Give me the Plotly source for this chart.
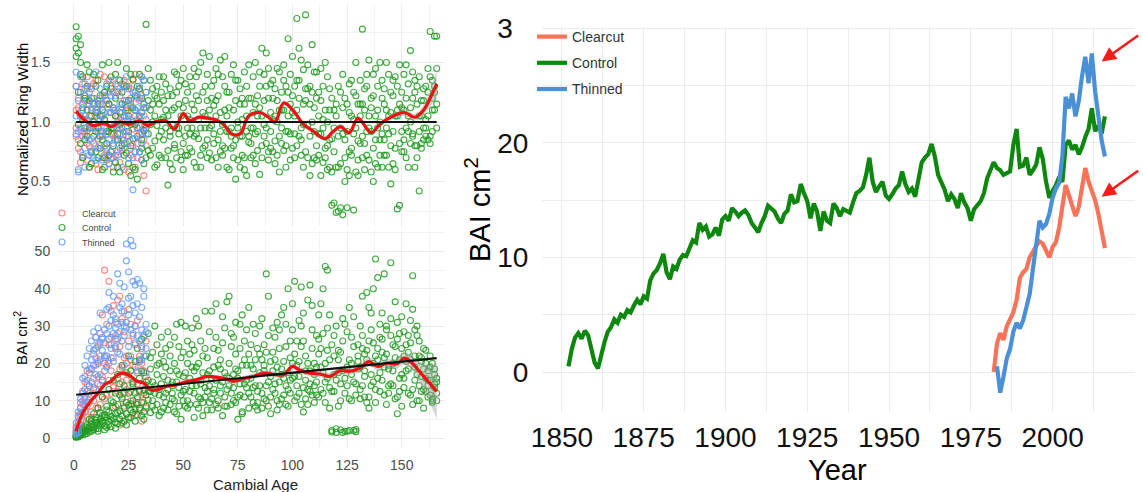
import plotly.graph_objects as go

W, H = 1143, 492

# ---------------- data: left panels (cambial age) ----------------
ages = list(range(1, 167))
young = list(range(1, 34))

# Normalized ring width, Control trees (ages 1-166)
ctrl_nrw_a = [1.80, 1.72, 1.65, 1.38, 1.22, 1.10, 0.95, 1.05, 0.88, 0.92,
              1.15, 0.78, 0.85, 1.02, 1.30, 0.72, 0.95, 1.12, 0.66, 0.90,
              1.08, 1.25, 0.82, 0.74, 1.18, 0.98, 1.36, 0.60, 0.88, 1.05,
              1.20, 0.93, 1.82, 0.76, 1.10, 1.28, 0.84, 0.97, 1.15, 0.70,
              1.04, 1.32, 0.47, 0.92, 1.22, 0.81, 1.40, 0.95, 0.68, 1.12,
              0.88, 1.25, 1.02, 0.75, 1.45, 0.90, 1.18, 0.62, 1.08, 1.30,
              0.85, 1.55, 0.97, 1.14, 0.70, 1.22, 0.92, 1.38, 0.78, 1.05,
              0.60, 0.88, 1.10, 0.52, 0.95, 1.28, 0.72, 1.42, 1.05, 0.83,
              1.20, 0.95, 1.50, 0.76, 1.12, 1.62, 0.88, 1.30, 0.68, 1.08,
              1.35, 0.84, 1.18, 0.58, 1.25, 1.48, 0.92, 1.70, 1.15, 0.78,
              1.05, 1.87, 1.20, 0.72, 1.44, 1.90, 0.98, 1.30, 0.65, 1.12,
              0.80, 1.25, 0.55, 1.02, 0.70, 1.38, 0.85, 0.30, 1.10, 0.62,
              0.25, 0.95, 0.22, 1.20, 0.28, 0.75, 1.35, 0.90, 0.58, 1.15,
              1.05, 1.78, 0.82, 1.30, 0.68, 1.12, 0.50, 1.45, 0.95, 0.72,
              1.20, 0.85, 1.50, 0.62, 1.08, 1.35, 0.78, 0.27, 1.15, 0.92,
              1.40, 0.70, 1.05, 1.60, 0.88, 1.25, 0.80, 0.42, 1.18, 0.95,
              1.30, 0.85, 1.76, 1.20, 1.72, 1.45]
ctrl_nrw_b = [1.70, 1.58, 1.40, 1.02, 0.85, 1.30, 1.18, 0.75, 1.40, 1.08,
              0.70, 1.22, 1.48, 0.62, 0.92, 1.15, 1.38, 0.80, 1.05, 1.50,
              0.58, 0.95, 1.30, 1.12, 0.65, 1.40, 0.86, 1.10, 0.52, 1.28,
              0.78, 1.35, 0.95, 1.18, 0.72, 1.00, 1.22, 0.64, 1.38, 0.92,
              0.85, 1.10, 0.76, 1.28, 0.98, 1.42, 0.70, 1.15, 1.35, 0.82,
              1.18, 0.72, 1.38, 0.95, 0.66, 1.22, 0.86, 1.50, 0.78, 1.05,
              1.40, 0.74, 1.20, 0.90, 1.45, 0.62, 1.08, 0.80, 1.30, 0.92,
              1.25, 0.78, 1.48, 0.85, 0.68, 1.15, 1.02, 0.60, 1.30, 0.88,
              0.70, 1.38, 0.90, 1.22, 0.56, 1.05, 1.40, 0.82, 1.20, 0.92,
              0.75, 1.28, 1.00, 1.42, 0.82, 1.10, 0.62, 1.25, 0.90, 1.55,
              1.30, 0.80, 1.62, 0.95, 1.15, 0.75, 1.48, 0.88, 1.25, 0.70,
              1.42, 0.90, 1.18, 0.66, 1.50, 0.80, 1.10, 0.58, 0.95, 0.24,
              0.88, 0.28, 1.12, 0.70, 0.92, 0.55, 1.05, 0.26, 1.22, 0.68,
              0.82, 1.15, 0.60, 1.40, 0.95, 1.20, 0.78, 1.05, 0.62, 1.50,
              0.90, 1.28, 0.72, 1.05, 0.48, 0.92, 1.38, 1.10, 0.30, 1.25,
              0.85, 1.48, 0.62, 1.12, 0.90, 1.35, 0.70, 1.05, 0.82, 1.28,
              1.02, 1.45, 0.88, 1.35, 1.10, 1.72]
ctrl_nrw_c = [1.62, 0.98, 1.50, 0.70, 1.20, 0.88, 1.42, 0.65, 1.15, 1.30,
              0.95, 1.05, 0.60, 1.25, 0.82, 1.50, 0.75, 0.95, 1.20, 0.62,
              1.35, 0.80, 1.05, 1.45, 0.92, 0.55, 1.12, 0.98, 1.30, 0.75,
              1.08, 0.65, 1.25, 0.90, 1.35, 0.78, 1.05, 1.20, 0.72, 1.25,
              1.18, 0.70, 1.05, 0.88, 0.60, 1.12, 0.95, 1.30, 0.75, 1.45,
              0.72, 1.05, 0.90, 1.30, 1.10, 0.62, 1.42, 0.95, 1.58, 0.80,
              1.18, 0.95, 0.68, 1.35, 1.05, 0.85, 1.52, 0.72, 1.10, 1.25,
              0.92, 1.40, 0.70, 1.18, 1.35, 0.62, 0.88, 1.15, 0.55, 1.20,
              0.95, 0.72, 1.15, 1.05, 1.42, 0.80, 0.98, 1.58, 0.75, 1.32,
              1.02, 0.65, 1.45, 0.88, 1.10, 0.76, 1.30, 0.92, 1.40, 1.08,
              0.70, 1.35, 0.88, 1.52, 0.62, 1.18, 1.28, 0.55, 1.65, 0.92,
              1.20, 0.72, 1.45, 0.95, 1.10, 0.60, 1.28, 0.86, 0.32, 1.15,
              0.62, 1.25, 0.90, 0.50, 1.15, 1.32, 0.78, 1.02, 1.50, 0.84,
              1.35, 0.70, 1.10, 0.92, 1.52, 0.58, 1.22, 0.85, 1.30, 1.00,
              0.62, 1.15, 0.95, 1.40, 0.80, 1.22, 0.60, 1.05, 1.48, 0.75,
              1.10, 0.95, 1.32, 0.82, 1.20, 0.62, 1.15, 1.38, 0.78, 0.85,
              0.95, 1.25, 0.82, 1.10, 1.30, 0.95]
ctrl_nrw_d = [1.55, 1.25, 0.82, 1.12, 0.95, 1.48, 0.62, 1.20, 1.00, 0.75,
              1.35, 0.88, 1.10, 0.70, 1.18, 0.92, 1.28, 0.58, 1.40, 0.85,
              0.98, 1.15, 0.72, 1.30, 1.05, 0.80, 0.62, 1.22, 0.95, 1.40,
              0.85, 1.12, 0.70, 1.45, 0.98, 1.15, 0.62, 1.30, 0.88, 1.02,
              1.38, 0.95, 1.22, 0.65, 1.10, 0.78, 1.25, 0.90, 1.05, 0.60,
              1.32, 0.95, 0.78, 1.15, 0.88, 1.38, 1.02, 0.72, 1.25, 0.95,
              0.70, 1.10, 1.30, 0.82, 1.18, 1.40, 0.75, 0.98, 1.55, 0.62,
              1.12, 0.95, 0.80, 1.35, 1.00, 0.88, 1.20, 0.70, 0.92, 1.48,
              0.82, 1.08, 0.65, 0.92, 1.30, 0.70, 1.18, 0.95, 1.45, 0.78,
              1.20, 1.05, 0.72, 1.10, 0.95, 1.35, 0.80, 1.05, 0.68, 1.22,
              0.90, 1.10, 1.35, 0.85, 0.98, 1.28, 0.70, 1.15, 1.00, 1.42,
              0.68, 1.05, 0.90, 1.30, 0.78, 1.00, 0.62, 1.20, 0.75, 1.05,
              1.30, 0.65, 1.40, 0.85, 0.60, 1.08, 0.72, 1.25, 0.95, 0.55,
              1.15, 0.88, 1.28, 0.72, 1.05, 0.92, 1.40, 0.65, 1.10, 0.85,
              1.35, 0.72, 1.10, 0.90, 1.25, 0.65, 1.05, 1.30, 0.82, 1.12,
              0.75, 1.20, 0.92, 1.00, 1.42, 0.80, 1.30, 0.92, 1.05, 1.18,
              0.88, 1.05, 1.38, 0.92, 1.25, 1.15]

# Normalized ring width, Clearcut / Thinned trees (ages 1-33)
cc_nrw_a = [1.10, 0.85, 1.25, 0.70, 1.02, 1.38, 0.80, 0.95, 1.20, 0.65, 1.08, 1.40, 0.88, 0.72, 1.15, 0.98, 1.30,
            0.62, 1.05, 0.85, 1.22, 0.76, 1.35, 0.92, 0.58, 1.12, 1.00, 1.40, 0.82, 1.18, 0.68, 1.05, 0.42]
cc_nrw_b = [0.95, 1.20, 0.75, 1.32, 0.90, 0.68, 1.15, 1.28, 0.82, 1.05, 0.60, 0.92, 1.22, 1.02, 0.78, 1.35, 0.70,
            1.10, 0.88, 1.25, 0.66, 1.00, 0.85, 1.18, 1.30, 0.72, 0.94, 0.62, 1.20, 0.90, 1.38, 0.55, 0.98]
cc_nrw_c = [1.30, 0.78, 1.05, 0.92, 1.18, 0.82, 0.62, 1.10, 1.00, 1.35, 0.86, 1.15, 0.70, 1.25, 0.95, 0.65, 1.08,
            0.90, 1.32, 0.75, 1.02, 1.15, 0.60, 0.88, 1.10, 1.28, 0.80, 1.05, 0.70, 0.96, 1.22, 0.85, 1.12]
cc_nrw_d = [0.88, 1.12, 0.66, 1.02, 1.28, 0.92, 1.05, 0.74, 1.32, 0.95, 1.18, 0.80, 1.05, 1.38, 0.68, 1.15, 0.90,
            1.25, 0.72, 1.05, 0.95, 1.32, 0.78, 1.10, 0.88, 1.20, 1.35, 0.75, 1.02, 1.28, 0.90, 1.15, 0.80]
th_nrw_a = [1.42, 0.60, 1.25, 0.88, 1.05, 1.18, 0.72, 1.30, 0.95, 0.80, 1.12, 1.02, 0.68, 1.22, 0.90, 1.08, 0.75,
            1.35, 0.85, 1.00, 1.15, 0.62, 1.05, 0.92, 1.28, 0.78, 0.43, 1.10, 0.95, 1.20, 0.82, 1.35, 1.02]
th_nrw_b = [1.30, 0.58, 0.95, 1.15, 0.78, 1.02, 1.25, 0.86, 0.70, 1.10, 0.92, 1.28, 1.05, 0.80, 1.18, 0.65, 0.98,
            1.12, 1.22, 0.72, 0.90, 1.08, 1.30, 0.82, 1.00, 1.15, 0.70, 1.25, 0.88, 1.05, 1.38, 0.92, 1.12]
th_nrw_c = [0.90, 1.18, 1.05, 0.72, 1.32, 0.95, 0.85, 1.12, 1.20, 0.68, 1.02, 0.88, 1.15, 0.95, 0.75, 1.25, 1.08,
            0.82, 0.98, 1.30, 0.78, 1.12, 0.92, 1.05, 0.70, 1.18, 1.00, 0.86, 1.22, 0.75, 1.08, 0.95, 1.25]
th_nrw_d = [1.05, 0.92, 1.38, 1.10, 0.62, 1.28, 0.98, 0.75, 1.15, 1.42, 0.78, 1.20, 0.92, 1.08, 1.32, 0.85, 1.22,
            0.70, 1.10, 0.95, 1.28, 0.85, 1.18, 1.38, 0.88, 1.02, 1.25, 0.75, 1.12, 1.30, 0.68, 1.15, 0.90]

# BAI (cm2), Control trees (ages 1-166)
ctrl_bai_a = [0.3, 0.8, 1.2, 1.5, 2.2, 2.0, 3.1, 2.8, 3.5, 4.2,
              3.8, 5.0, 4.5, 6.2, 5.5, 7.0, 4.8, 8.2, 6.5, 9.0,
              7.2, 10.5, 8.0, 6.5, 12.0, 9.2, 14.5, 7.8, 11.0, 16.0,
              9.5, 13.0, 22.0, 10.2, 18.5, 8.5, 14.0, 25.0, 11.5, 7.0,
              16.5, 12.0, 28.5, 9.0, 15.0, 20.0, 6.5, 13.5, 31.0, 10.0,
              17.5, 8.0, 22.5, 14.0, 5.5, 19.0, 11.0, 26.0, 9.5, 34.0,
              12.5, 18.0, 7.5, 24.0, 15.5, 10.0, 21.0, 6.0, 29.5, 13.0,
              38.0, 9.0, 17.0, 22.5, 5.0, 14.5, 33.0, 11.0, 19.5, 8.0,
              25.0, 13.5, 28.0, 7.5, 17.5, 21.0, 10.5, 44.0, 15.0, 6.5,
              23.0, 12.0, 31.0, 9.0, 18.5, 35.0, 14.0, 8.5, 26.0, 16.0,
              42.0, 11.0, 20.5, 30.0, 7.0, 15.5, 37.0, 12.5, 24.0, 9.5,
              19.0, 33.0, 13.0, 28.0, 46.0, 16.0, 8.0, 2.0, 22.0, 1.5,
              17.5, 2.2, 26.0, 12.0, 1.8, 35.0, 20.0, 2.0, 14.5, 25.0,
              10.5, 38.0, 18.0, 23.5, 8.0, 29.0, 15.0, 48.0, 21.0, 12.5,
              26.5, 44.0, 9.0, 19.5, 32.0, 14.0, 24.5, 6.5, 28.0, 17.0,
              22.0, 36.0, 12.0, 25.5, 43.5, 15.5, 30.0, 10.0, 20.5, 13.0,
              16.0, 11.0, 19.0, 9.5, 17.0, 12.0]
ctrl_bai_b = [0.5, 1.0, 0.7, 2.5, 1.8, 3.5, 2.4, 4.6, 3.0, 5.5,
              2.5, 6.8, 4.0, 3.2, 8.5, 4.5, 10.0, 5.2, 12.0, 3.8,
              14.5, 6.0, 4.5, 17.5, 8.8, 5.5, 10.0, 20.5, 6.2, 12.5,
              18.0, 5.0, 11.5, 15.5, 6.8, 23.0, 12.0, 9.0, 20.0, 14.5,
              8.0, 24.0, 13.0, 18.0, 10.5, 27.0, 15.0, 8.5, 21.5, 12.5,
              30.0, 10.0, 16.0, 25.0, 12.0, 9.0, 20.0, 14.5, 6.0, 24.0,
              17.0, 28.5, 10.5, 13.0, 36.0, 8.0, 18.5, 25.5, 11.0, 16.5,
              20.0, 12.0, 27.0, 9.5, 16.0, 30.5, 7.0, 21.0, 13.5, 35.0,
              11.0, 18.5, 8.5, 24.0, 14.0, 32.0, 19.5, 10.0, 27.5, 16.5,
              13.0, 21.0, 7.5, 29.0, 17.0, 11.5, 24.5, 40.0, 15.5, 20.0,
              10.0, 26.0, 16.5, 40.5, 13.5, 22.0, 9.0, 18.0, 29.0, 14.0,
              27.5, 11.0, 24.0, 17.5, 9.5, 45.0, 21.0, 1.6, 12.5, 30.0,
              8.5, 23.0, 1.5, 16.0, 28.5, 2.0, 10.0, 24.5, 1.7, 18.5,
              30.0, 14.0, 22.5, 9.5, 26.0, 17.0, 40.0, 13.0, 24.0, 30.5,
              15.5, 21.5, 29.0, 12.0, 47.0, 20.0, 10.5, 26.5, 16.0, 32.5,
              13.5, 25.0, 18.5, 31.5, 9.0, 22.0, 27.5, 14.0, 16.5, 24.0,
              12.5, 18.0, 15.5, 10.0, 13.5, 16.0]
ctrl_bai_c = [0.2, 0.4, 1.6, 0.9, 3.0, 1.2, 5.0, 1.8, 6.5, 2.5,
              8.0, 3.5, 11.0, 5.5, 2.8, 13.0, 3.0, 15.5, 4.2, 17.0,
              5.0, 19.5, 12.0, 3.5, 22.0, 7.5, 15.0, 4.5, 24.0, 8.0,
              26.5, 7.0, 15.0, 28.0, 12.5, 10.0, 30.0, 17.0, 6.0, 22.5,
              11.0, 19.0, 7.5, 25.0, 14.0, 10.0, 30.5, 17.0, 5.0, 23.0,
              13.0, 20.0, 9.0, 29.5, 18.0, 32.0, 8.0, 15.5, 22.0, 11.0,
              7.5, 14.0, 34.0, 19.0, 9.0, 23.5, 12.0, 15.0, 8.5, 36.5,
              14.0, 24.5, 10.0, 31.0, 18.0, 11.5, 6.5, 26.0, 15.5, 22.5,
              16.0, 9.5, 21.0, 12.5, 30.0, 8.0, 25.0, 14.0, 38.0, 11.0,
              18.0, 27.0, 10.0, 15.0, 33.0, 20.5, 9.0, 17.5, 12.0, 29.0,
              22.5, 14.0, 31.5, 9.0, 26.0, 18.0, 13.0, 41.0, 11.5, 20.0,
              15.0, 22.5, 36.0, 12.0, 20.0, 29.5, 13.5, 25.0, 17.0, 2.5,
              21.0, 14.5, 32.0, 1.8, 19.0, 10.5, 27.0, 15.0, 2.3, 22.0,
              13.0, 24.0, 16.5, 39.0, 11.0, 33.5, 20.0, 9.5, 43.0, 17.5,
              23.0, 11.5, 30.0, 18.5, 14.5, 25.0, 36.5, 11.0, 21.0, 8.5,
              28.5, 18.0, 23.0, 11.5, 34.5, 19.0, 10.0, 26.0, 21.5, 8.0,
              20.0, 14.0, 22.0, 10.5, 18.5, 15.0]
ctrl_bai_d = [0.6, 0.3, 2.0, 1.4, 1.0, 2.8, 1.6, 3.8, 2.2, 4.8,
              1.8, 4.2, 6.0, 2.2, 7.5, 3.6, 5.8, 9.5, 2.6, 6.8,
              11.5, 4.0, 14.0, 9.5, 5.5, 18.0, 6.8, 12.0, 9.0, 21.0,
              6.0, 17.5, 8.5, 12.5, 21.5, 15.0, 7.5, 19.5, 13.0, 27.0,
              20.5, 9.5, 15.5, 22.0, 12.0, 7.0, 18.0, 24.5, 11.5, 16.5,
              8.5, 26.0, 12.5, 19.0, 23.5, 14.0, 30.0, 10.5, 17.5, 13.5,
              21.5, 9.5, 16.0, 12.0, 27.0, 19.5, 14.0, 32.5, 17.5, 8.5,
              16.0, 28.0, 13.5, 18.5, 11.0, 24.0, 19.5, 14.5, 29.0, 12.0,
              19.5, 30.5, 14.0, 9.5, 22.5, 12.0, 18.0, 23.0, 8.5, 20.5,
              29.5, 14.5, 19.0, 24.0, 10.5, 16.0, 30.5, 13.0, 21.5, 36.0,
              16.5, 19.5, 12.0, 24.5, 33.5, 10.5, 20.0, 14.5, 35.5, 17.0,
              11.5, 26.5, 19.0, 40.0, 15.0, 23.5, 33.0, 12.5, 27.5, 15.5,
              23.5, 10.0, 18.0, 30.5, 14.0, 21.0, 17.0, 32.5, 11.5, 20.5,
              19.0, 27.5, 11.0, 21.0, 35.0, 14.0, 25.5, 22.0, 16.0, 27.0,
              33.5, 19.0, 22.5, 14.0, 27.5, 18.0, 21.5, 31.0, 12.5, 24.0,
              16.0, 20.5, 27.5, 21.0, 13.0, 29.0, 17.0, 22.0, 12.5, 18.5,
              23.5, 15.5, 11.5, 20.0, 14.5, 10.0]

# BAI (cm2), Clearcut / Thinned trees (ages 1-33)
cc_bai_a = [2.5, 4.0, 6.5, 9.0, 15.0, 8.5, 12.0, 18.5, 10.0, 27.0, 14.5, 22.0, 33.0, 45.0, 19.5, 42.0, 12.0,
            35.5, 24.0, 16.0, 38.0, 11.0, 28.5, 20.0, 5.0, 30.5, 14.0, 25.0, 9.5, 22.0, 4.5, 18.0, 26.0]
cc_bai_b = [1.5, 6.0, 3.5, 12.5, 7.0, 18.0, 9.5, 5.5, 22.5, 13.0, 8.0, 28.0, 16.5, 10.5, 30.5, 20.0, 34.0,
            14.0, 26.5, 37.0, 18.5, 32.0, 8.5, 22.0, 17.0, 12.5, 27.5, 19.0, 31.5, 7.5, 24.0, 12.0, 16.5]
cc_bai_c = [3.0, 2.0, 9.5, 5.0, 11.0, 14.5, 17.5, 7.0, 13.5, 19.5, 24.5, 9.0, 15.5, 20.0, 11.5, 25.0, 18.0,
            13.5, 8.5, 28.0, 3.5, 15.0, 21.5, 13.0, 34.5, 10.0, 19.5, 6.0, 14.5, 20.5, 11.5, 27.0, 8.0]
cc_bai_d = [1.0, 3.5, 8.0, 6.5, 10.5, 5.5, 14.0, 11.5, 16.0, 8.0, 20.5, 17.0, 11.0, 25.5, 22.0, 15.5, 27.0,
            21.5, 31.0, 12.5, 24.5, 19.0, 34.0, 15.5, 26.0, 21.0, 9.0, 30.0, 17.5, 13.0, 20.0, 9.5, 14.0]
th_bai_a = [2.0, 5.5, 8.0, 12.0, 16.5, 22.0, 14.0, 26.0, 19.5, 24.0, 29.5, 21.0, 27.0, 18.0, 34.5, 30.0, 25.0,
            38.0, 32.0, 44.0, 28.5, 36.0, 40.5, 52.0, 33.0, 53.0, 42.0, 30.0, 42.5, 26.0, 35.0, 22.0, 30.5]
th_bai_b = [1.0, 3.0, 10.5, 7.0, 13.0, 9.5, 18.5, 15.0, 23.5, 17.0, 20.0, 25.5, 15.5, 29.0, 22.0, 26.5, 31.5,
            20.5, 27.5, 23.0, 35.0, 26.0, 30.0, 47.5, 24.5, 38.0, 28.0, 33.5, 18.0, 41.5, 21.0, 27.5, 24.0]
th_bai_c = [4.0, 1.5, 6.0, 16.0, 9.0, 12.5, 11.0, 21.0, 13.0, 27.0, 16.5, 14.0, 23.5, 21.5, 19.0, 35.0, 21.5,
            28.0, 24.5, 30.5, 22.5, 31.0, 19.5, 29.5, 37.5, 22.0, 51.5, 25.5, 36.0, 20.5, 29.0, 38.0, 17.5]
th_bai_d = [1.5, 7.0, 4.5, 10.0, 19.5, 15.5, 24.0, 18.5, 28.5, 21.5, 25.0, 33.5, 26.5, 22.0, 28.0, 39.0, 24.0,
            33.0, 29.5, 26.5, 41.5, 34.0, 27.5, 31.0, 44.5, 29.0, 35.5, 41.0, 27.5, 32.5, 24.5, 40.0, 28.5]

# smoothed (loess) curves, their standard-error half widths, and linear fits
loess_age_top = [1, 4, 9, 14, 17, 21, 25, 30, 34, 37, 42, 46, 50, 53, 57, 62, 66, 69, 72, 76,
                 80, 85, 89, 92, 96, 101, 105, 109, 115, 118, 122, 126, 130, 136, 140, 144, 151, 156, 160, 163, 166]
loess_nrw = [1.09, 1.03, 0.97, 0.99, 0.96, 1.00, 0.98, 1.01, 0.97, 1.00, 1.01, 0.94, 1.07, 1.01, 1.04, 1.03,
             1.01, 0.97, 0.90, 0.90, 1.05, 1.08, 1.04, 1.00, 1.16, 1.08, 0.98, 0.93, 0.86, 0.91, 0.96, 0.91,
             1.03, 0.91, 0.98, 1.03, 1.08, 1.04, 1.10, 1.20, 1.32]
loess_nrw_se = [0.04, 0.03, 0.02, 0.02, 0.02, 0.02, 0.02, 0.02, 0.02, 0.02, 0.02, 0.02, 0.02, 0.02, 0.02,
                0.02, 0.02, 0.02, 0.02, 0.02, 0.02, 0.02, 0.02, 0.02, 0.02, 0.02, 0.02, 0.02, 0.02, 0.02,
                0.02, 0.02, 0.02, 0.02, 0.02, 0.02, 0.03, 0.03, 0.04, 0.07, 0.12]
loess_age_bot = [1, 4, 7, 11, 14, 17, 20, 23, 26, 29, 32, 35, 38, 42, 47, 52, 56, 61, 65, 70, 73, 78, 82, 87,
                 91, 96, 100, 103, 108, 113, 117, 122, 126, 131, 135, 139, 143, 148, 151, 154, 158, 162, 166]
loess_bai = [1.8, 6.7, 9.4, 12.0, 14.3, 15.2, 17.0, 17.4, 16.5, 15.2, 14.7, 12.9, 12.9, 13.8, 14.3, 15.2,
             15.6, 16.5, 16.3, 15.8, 15.2, 16.0, 16.5, 17.4, 17.1, 17.0, 19.2, 18.3, 17.4, 17.1, 16.5, 18.1,
             17.9, 18.8, 20.5, 19.2, 20.1, 19.9, 21.4, 20.5, 17.9, 15.2, 12.5]
loess_bai_se = [1.0, 0.8, 0.7, 0.6, 0.6, 0.6, 0.6, 0.6, 0.6, 0.6, 0.6, 0.6, 0.6, 0.6, 0.6, 0.6, 0.6, 0.6,
                0.6, 0.7, 0.7, 0.7, 0.7, 0.7, 0.8, 0.8, 0.8, 0.8, 0.9, 0.9, 0.9, 1.0, 1.0, 1.0, 1.1, 1.1,
                1.2, 1.3, 1.5, 1.8, 2.6, 4.5, 7.5]
lm_age = [1, 166]
lm_nrw = [1.0, 1.0]
lm_bai = [11.6, 21.4]

# ---------------- data: right panel (calendar years) ----------------
years_control = list(range(1852, 2017))
bai_control = [0.5, 2.0, 3.0, 3.4, 2.9, 3.6, 3.2, 2.0, 0.8, 0.3,
               1.5, 2.6, 3.5, 3.9, 4.6, 4.3, 5.0, 4.8, 5.4, 5.2,
               5.8, 6.3, 5.9, 6.6, 6.4, 8.0, 8.6, 8.9, 9.5, 10.3,
               8.7, 8.1, 9.2, 9.0, 9.8, 10.2, 10.1, 10.8, 11.5, 11.3,
               13.0, 12.4, 12.7, 11.8, 12.0, 12.6, 11.9, 13.3, 13.6, 13.2,
               14.3, 14.0, 13.6, 13.9, 14.1, 13.7, 13.0, 12.6, 12.2, 13.0,
               13.6, 14.5, 14.2, 14.0, 13.4, 13.0, 13.8, 14.1, 15.5, 14.8,
               14.9, 16.4, 15.6, 14.9, 13.4, 14.7, 14.0, 12.3, 14.0, 13.2,
               13.0, 14.7, 14.3, 13.6, 14.2, 14.0, 13.9, 14.8, 15.6, 15.8,
               16.1, 17.2, 18.7, 16.6, 15.7, 16.2, 16.6, 15.4, 15.1, 15.5,
               16.0, 16.3, 17.5, 16.4, 15.7, 16.0, 15.3, 16.8, 18.3, 18.7,
               19.0, 19.9, 18.8, 17.2, 16.5, 15.9, 14.9, 15.5, 15.1, 14.3,
               15.6, 14.8, 14.3, 13.2, 14.2, 14.6, 14.9, 15.6, 16.9, 17.6,
               18.3, 17.8, 17.6, 17.2, 17.4, 17.5, 19.8, 21.2, 17.9, 18.0,
               18.7, 17.2, 17.6, 18.1, 19.6, 18.6, 16.6, 15.2, 15.8, 16.3,
               17.0, 16.6, 19.8, 20.2, 19.4, 19.8, 19.0, 19.6, 20.5, 21.2,
               23.0, 21.0, 21.5, 20.8, 22.3]
years_clearcut = list(range(1982, 2017))
bai_clearcut = [0.0, 2.5, 3.4, 2.8, 4.0, 4.6, 5.2, 6.3, 8.2, 8.7,
                9.0, 10.0, 10.6, 11.0, 11.4, 11.2, 10.6, 10.0, 10.9, 11.3,
                12.6, 14.4, 16.3, 15.4, 14.6, 13.6, 14.4, 16.0, 17.8, 16.6,
                15.8, 15.0, 13.8, 12.3, 10.8]
years_thinned = list(range(1983, 2017))
bai_thinned = [0.5, -1.8, -0.4, 1.2, 2.0, 3.5, 4.3, 3.8, 4.5, 5.6,
               6.8, 9.0, 11.5, 13.2, 12.6, 12.9, 13.8, 15.2, 16.0, 16.5,
               18.8, 24.0, 23.0, 24.3, 22.3, 23.6, 25.8, 27.5, 25.2, 27.8,
               24.5, 22.3, 20.2, 18.8]
arrow_years = [2015.0, 2015.0]
arrow_values = [27.1, 15.3]

for a, b in [(ctrl_nrw_a, ages), (ctrl_nrw_b, ages), (ctrl_nrw_c, ages), (ctrl_nrw_d, ages),
             (ctrl_bai_a, ages), (ctrl_bai_b, ages), (ctrl_bai_c, ages), (ctrl_bai_d, ages),
             (loess_nrw, loess_age_top), (loess_nrw_se, loess_age_top),
             (loess_bai, loess_age_bot), (loess_bai_se, loess_age_bot), (bai_control, years_control),
             (bai_clearcut, years_clearcut), (bai_thinned, years_thinned)]:
    assert len(a) == len(b), (len(a), len(b))
for s in [cc_nrw_a, cc_nrw_b, cc_nrw_c, cc_nrw_d, th_nrw_a, th_nrw_b, th_nrw_c, th_nrw_d,
          cc_bai_a, cc_bai_b, cc_bai_c, cc_bai_d, th_bai_a, th_bai_b, th_bai_c, th_bai_d]:
    assert len(s) == len(young)

# ---------------- styles ----------------
C_CC, C_CTRL, C_TH = "#F8766D", "#1E9A1E", "#619CFF"
R_CC, R_CTRL, R_TH = "#FA7358", "#0E870E", "#4A90D8"
GRID = "#EBEBEB"
FONT = "Liberation Sans, Arial, sans-serif"

fig = go.Figure()


def scatter_group(series, xvals, color, name, xa, ya, legend_id):
    xs, ys = [], []
    for s in series:
        xs += xvals
        ys += s
    fig.add_trace(go.Scatter(
        x=xs, y=ys, mode="markers", name=name, xaxis=xa, yaxis=ya,
        marker=dict(symbol="circle-open", size=6, color=color, opacity=0.85, line=dict(width=1.1)),
        showlegend=legend_id is not None, legend=legend_id or "legend2", hoverinfo="skip"))


def band_and_curve(xv, yv, se, xa, ya):
    lower = [v - e for v, e in zip(yv, se)]
    upper = [v + e for v, e in zip(yv, se)]
    fig.add_trace(go.Scatter(x=xv, y=lower, mode="lines", line=dict(width=0, shape="spline"),
                             xaxis=xa, yaxis=ya, showlegend=False, hoverinfo="skip"))
    fig.add_trace(go.Scatter(x=xv, y=upper, mode="lines", line=dict(width=0, shape="spline"),
                             fill="tonexty", fillcolor="rgba(160,160,160,0.45)",
                             xaxis=xa, yaxis=ya, showlegend=False, hoverinfo="skip"))
    fig.add_trace(go.Scatter(x=xv, y=yv, mode="lines", line=dict(color="#EE1111", width=3.2, shape="spline"),
                             xaxis=xa, yaxis=ya, showlegend=False, hoverinfo="skip"))


# top-left panel
scatter_group([cc_nrw_a, cc_nrw_b, cc_nrw_c, cc_nrw_d], young, C_CC, "Clearcut", "x", "y", "legend2")
scatter_group([ctrl_nrw_a, ctrl_nrw_b, ctrl_nrw_c, ctrl_nrw_d], ages, C_CTRL, "Control", "x", "y", "legend3")
scatter_group([th_nrw_a, th_nrw_b, th_nrw_c, th_nrw_d], young, C_TH, "Thinned", "x", "y", "legend4")
band_and_curve(loess_age_top, loess_nrw, loess_nrw_se, "x", "y")
fig.add_trace(go.Scatter(x=lm_age, y=lm_nrw, mode="lines", line=dict(color="#111111", width=2.2),
                         xaxis="x", yaxis="y", showlegend=False))

# bottom-left panel
scatter_group([cc_bai_a, cc_bai_b, cc_bai_c, cc_bai_d], young, C_CC, "Clearcut", "x2", "y2", None)
scatter_group([ctrl_bai_a, ctrl_bai_b, ctrl_bai_c, ctrl_bai_d], ages, C_CTRL, "Control", "x2", "y2", None)
scatter_group([th_bai_a, th_bai_b, th_bai_c, th_bai_d], young, C_TH, "Thinned", "x2", "y2", None)
band_and_curve(loess_age_bot, loess_bai, loess_bai_se, "x2", "y2")
fig.add_trace(go.Scatter(x=lm_age, y=lm_bai, mode="lines", line=dict(color="#111111", width=2.2),
                         xaxis="x2", yaxis="y2", showlegend=False))

# right panel
for xv, yv, col, nm in [(years_clearcut, bai_clearcut, R_CC, "Clearcut"),
                        (years_control, bai_control, R_CTRL, "Control"),
                        (years_thinned, bai_thinned, R_TH, "Thinned")]:
    fig.add_trace(go.Scatter(x=xv, y=yv, mode="lines", name=nm, line=dict(color=col, width=4.2),
                             xaxis="x3", yaxis="y3", legend="legend", legendgroup=nm))

# ---------------- layout ----------------
left_dom = [58 / W, 445 / W]
small_tick = dict(size=14, color="#4D4D4D", family=FONT)

def ax(**kw):
    d = dict(showline=False, zeroline=False, showgrid=True, gridcolor=GRID, gridwidth=1.1,
             ticks="outside", tickcolor="rgba(0,0,0,0)", automargin=False)
    d.update(kw)
    return d

small_legend = dict(xanchor="left", yanchor="middle", bgcolor="rgba(0,0,0,0)",
                    font=dict(size=9, color="#444444", family=FONT))

fig.update_layout(
    width=W, height=H, margin=dict(l=0, r=0, t=0, b=0, autoexpand=False),
    paper_bgcolor="white", plot_bgcolor="white",
    font=dict(family=FONT, color="#000000"),
    xaxis=ax(domain=left_dom, range=[-7.3, 169.8], anchor="y", tickvals=[0, 25, 50, 75, 100, 125, 150],
             showticklabels=False, ticklen=0,
             minor=dict(tickvals=[12.5, 37.5, 62.5, 87.5, 112.5, 137.5, 162.5], showgrid=True,
                        gridcolor="#F3F3F3", gridwidth=0.8)),
    yaxis=ax(domain=[1 - 227 / H, 1 - 5 / H], range=[0.118, 1.983], anchor="x",
             tickvals=[0.5, 1.0, 1.5], ticktext=["0.5", "1.0", "1.5"], tickfont=small_tick, ticklen=4,
             minor=dict(tickvals=[0.25, 0.75, 1.25, 1.75], showgrid=True, gridcolor="#F3F3F3", gridwidth=0.8)),
    xaxis2=ax(domain=left_dom, range=[-7.3, 169.8], anchor="y2", tickvals=[0, 25, 50, 75, 100, 125, 150],
              tickfont=small_tick, ticklen=4,
              minor=dict(tickvals=[12.5, 37.5, 62.5, 87.5, 112.5, 137.5, 162.5], showgrid=True,
                         gridcolor="#F3F3F3", gridwidth=0.8)),
    yaxis2=ax(domain=[1 - 448 / H, 1 - 231 / H], range=[-2.68, 55.5], anchor="x2",
              tickvals=[0, 10, 20, 30, 40, 50], tickfont=small_tick, ticklen=4,
              minor=dict(tickvals=[5, 15, 25, 35, 45, 55], showgrid=True, gridcolor="#F3F3F3", gridwidth=0.8)),
    xaxis3=ax(domain=[542 / W, 1135 / W], range=[1843.9, 2025.2], anchor="y3",
              tickvals=[1850, 1875, 1900, 1925, 1950, 1975, 2000], tickfont=dict(size=28, color="#111111"),
              ticklen=0, gridwidth=1.4,
              minor=dict(tickvals=[1862.5, 1887.5, 1912.5, 1937.5, 1962.5, 1987.5, 2012.5, 2025],
                         showgrid=True, gridcolor=GRID, gridwidth=1.2)),
    yaxis3=ax(domain=[1 - 412 / H, 1 - 27 / H], range=[-3.49, 30.1], anchor="x3",
              tickvals=[0, 10, 20, 30], ticktext=["0", "10", "20", "3\u00a0\u00a0"],
              tickfont=dict(size=28, color="#111111"), ticklen=0, ticklabelstandoff=7, gridwidth=1.4,
              minor=dict(tickvals=[5, 15, 25], showgrid=True, gridcolor=GRID, gridwidth=1.2)),
    legend=dict(x=532 / W, y=1 - 21 / H, xanchor="left", yanchor="top", bgcolor="rgba(0,0,0,0)",
                font=dict(size=14, color="#333333", family=FONT), tracegroupgap=5, itemwidth=30),
    legend2=dict(x=42 / W, y=1 - 213 / H, **small_legend),
    legend3=dict(x=42 / W, y=1 - 227.5 / H, **small_legend),
    legend4=dict(x=42 / W, y=1 - 242 / H, **small_legend),
    shapes=[dict(type="rect", xref="paper", yref="paper", layer="between",
                 x0=516 / W, x1=640 / W, y0=1 - 104 / H, y1=1 - 8 / H,
                 fillcolor="white", line=dict(width=0))],
)

ann = []
ann.append(dict(text="Normalized Ring Width", x=22 / W, y=1 - 120 / H, textangle=-90, font=dict(size=15)))
ann.append(dict(text="BAI cm<sup>2</sup>", x=20 / W, y=1 - 338 / H, textangle=-90, font=dict(size=15)))
ann.append(dict(text="Cambial Age", x=255 / W, y=1 - 484 / H, font=dict(size=15, color="#222222")))
ann.append(dict(text="BAI cm<sup>2</sup>", x=478 / W, y=1 - 210 / H, textangle=-90, font=dict(size=29)))
ann.append(dict(text="Year", x=837 / W, y=1 - 470 / H, font=dict(size=29)))
for a in ann:
    a.update(xref="paper", yref="paper", showarrow=False, xanchor="center", yanchor="middle")
for yr, v in zip(arrow_years, arrow_values):
    ann.append(dict(x=yr, y=v, xref="x3", yref="y3", text="", showarrow=True, arrowhead=2,
                    arrowsize=1.1, arrowwidth=2.6, arrowcolor="#FF1A1A", ax=38, ay=-27))
fig.update_layout(annotations=ann)

fig.write_html("out.html")
